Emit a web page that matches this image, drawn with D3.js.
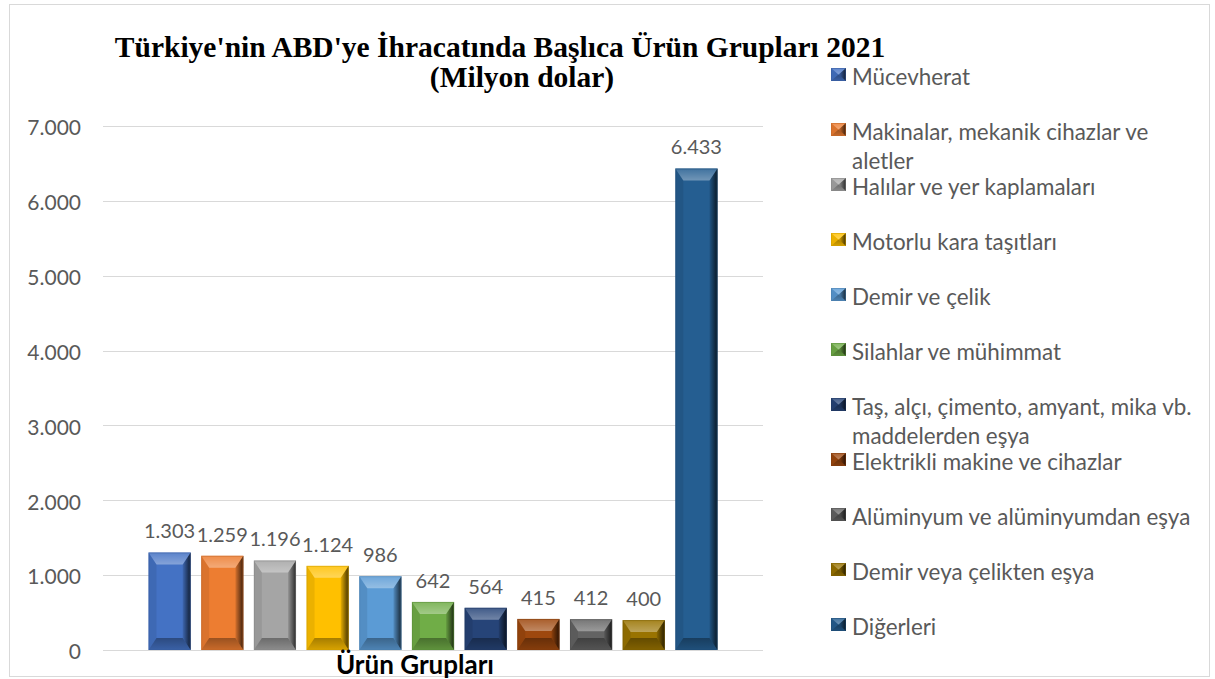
<!DOCTYPE html>
<html>
<head>
<meta charset="utf-8">
<script src="https://cdn.jsdelivr.net/npm/d3@7"></script>
<style>
  body { margin: 0; background: #fff; }
  svg { display: block; }
</style>
</head>
<body>
<div id="chart"></div>
<script>
// data (million USD, 2021)
const categories = ["Ürün Grupları"];
const seriesNames = [
  "Mücevherat",
  "Makinalar, mekanik cihazlar ve aletler",
  "Halılar ve yer kaplamaları",
  "Motorlu kara taşıtları",
  "Demir ve çelik",
  "Silahlar ve mühimmat",
  "Taş, alçı, çimento, amyant, mika vb. maddelerden eşya",
  "Elektrikli makine ve cihazlar",
  "Alüminyum ve alüminyumdan eşya",
  "Demir veya çelikten eşya",
  "Diğerleri",
];
const seriesValues = [1303, 1259, 1196, 1124, 986, 642, 564, 415, 412, 400, 6433];
const seriesColors = [
  "#4472C4", "#ED7D31", "#A5A5A5", "#FFC000", "#5B9BD5", "#70AD47",
  "#264478", "#9E480E", "#636363", "#997300", "#255E91",
];
const yTicks = [0, 1000, 2000, 3000, 4000, 5000, 6000, 7000];
const titleLines = ["Türkiye'nin ABD'ye İhracatında Başlıca Ürün Grupları 2021", "(Milyon dolar)"];

const width = 1215;
const height = 679;
const plot = { left: 103, right: 763, top: 126, bottom: 650 };
const textGray = "#595959";
const sans = "Lato, 'Open Sans', sans-serif";

const trFormat = d3.formatLocale({
  decimal: ",",
  thousands: ".",
  grouping: [3],
  currency: ["", "₺"],
}).format(",");

const svg = d3
  .select("#chart")
  .append("svg")
  .attr("width", width)
  .attr("height", height);

// gradients for the bevel faces
const defs = svg.append("defs");
const gRight = defs.append("linearGradient").attr("id", "bevel-right");
gRight.append("stop").attr("offset", 0).attr("stop-color", "#000").attr("stop-opacity", 0.1);
gRight.append("stop").attr("offset", 1).attr("stop-color", "#000").attr("stop-opacity", 0.75);
const gTop = defs
  .append("linearGradient")
  .attr("id", "bevel-top")
  .attr("x1", 0).attr("y1", 0).attr("x2", 0).attr("y2", 1);
gTop.append("stop").attr("offset", 0).attr("stop-color", "#fff").attr("stop-opacity", 0.12);
gTop.append("stop").attr("offset", 1).attr("stop-color", "#fff").attr("stop-opacity", 0.35);
const gBottom = defs
  .append("linearGradient")
  .attr("id", "bevel-bottom")
  .attr("x1", 0).attr("y1", 0).attr("x2", 0).attr("y2", 1);
gBottom.append("stop").attr("offset", 0).attr("stop-color", "#000").attr("stop-opacity", 0.35);
gBottom.append("stop").attr("offset", 1).attr("stop-color", "#000").attr("stop-opacity", 0.15);

// chart frame
svg
  .append("rect")
  .attr("x", 9.5)
  .attr("y", 4.5)
  .attr("width", 1200)
  .attr("height", 672)
  .attr("fill", "#fff")
  .attr("stroke", "#d9d9d9");

const y = d3.scaleLinear().domain([0, 7000]).range([plot.bottom, plot.top]);

const x0 = d3
  .scaleBand()
  .domain(categories)
  .range([plot.left, plot.right])
  .paddingInner(0)
  .paddingOuter(0.08);

const x1 = d3
  .scaleBand()
  .domain(seriesNames)
  .range([0, x0.bandwidth()])
  .paddingInner(0.2)
  .paddingOuter(0);

// gridlines
svg
  .append("g")
  .selectAll("line")
  .data(yTicks)
  .join("line")
  .attr("x1", plot.left)
  .attr("x2", plot.right)
  .attr("y1", (d) => Math.round(y(d)) + 0.5)
  .attr("y2", (d) => Math.round(y(d)) + 0.5)
  .attr("stroke", "#d9d9d9")
  .attr("stroke-width", 1.2);

// y axis labels
const yAxis = d3
  .axisLeft(y)
  .tickValues(yTicks)
  .tickFormat(trFormat)
  .tickSize(0)
  .tickPadding(0);
const yAxisG = svg
  .append("g")
  .attr("transform", `translate(81,2)`)
  .call(yAxis);
yAxisG.select(".domain").remove();
yAxisG
  .selectAll("text")
  .attr("fill", textGray)
  .style("font-family", sans)
  .style("font-size", "21px");

// bevelled bar
function bevel(g, bx, by, bw, bh, color, s, d) {
  const xa = bx, xb = bx + bw, ya = by, yb = by + bh;
  g.append("rect")
    .attr("x", xa).attr("y", ya).attr("width", bw).attr("height", bh)
    .attr("fill", color);
  const face = (pts, fill) =>
    g.append("polygon").attr("points", pts.map((p) => p.join(",")).join(" ")).attr("fill", fill);
  face([[xa, ya], [xa + s, ya + d], [xa + s, yb - d], [xa, yb]], "rgba(0,0,0,0.08)");
  face([[xb, ya], [xb, yb], [xb - s, yb - d], [xb - s, ya + d]], "url(#bevel-right)");
  face([[xa, yb], [xb, yb], [xb - s, yb - d], [xa + s, yb - d]], "url(#bevel-bottom)");
  face([[xa, ya], [xb, ya], [xb - s, ya + d], [xa + s, ya + d]], "url(#bevel-top)");
  g.append("rect")
    .attr("x", xa + 0.5).attr("y", ya + 0.5).attr("width", bw - 1).attr("height", bh - 1)
    .attr("fill", "none")
    .attr("stroke", d3.color(color).darker(0.6))
    .attr("stroke-opacity", 0.5);
}

const barData = seriesNames.map((name, i) => ({
  category: categories[0],
  name,
  value: seriesValues[i],
  color: seriesColors[i],
}));

const barsG = svg.append("g");
barData.forEach((b) => {
  const bx = x0(b.category) + x1(b.name);
  const by = y(b.value);
  const bh = y(0) - by;
  const bw = x1.bandwidth();
  const g = barsG.append("g");
  const d = Math.min(12, bh / 2.4);
  bevel(g, bx, by, bw, bh, b.color, 8, d);
  barsG
    .append("text")
    .attr("x", bx + bw / 2)
    .attr("y", by - 14)
    .attr("text-anchor", "middle")
    .attr("fill", textGray)
    .style("font-family", sans)
    .style("font-size", "20px")
    .text(trFormat(b.value));
});

// category axis title
svg
  .append("text")
  .attr("x", 415)
  .attr("y", 674)
  .attr("text-anchor", "middle")
  .attr("fill", "#000")
  .style("font-family", sans)
  .style("font-weight", "bold")
  .style("font-size", "26px")
  .text(categories[0]);

// chart title
const titleG = svg
  .append("g")
  .attr("fill", "#000")
  .style("font-family", "'Liberation Serif', 'Times New Roman', serif")
  .style("font-weight", "bold")
  .style("font-size", "29.5px");
titleG.append("text").attr("x", 500).attr("y", 57).attr("text-anchor", "middle").text(titleLines[0]);
titleG.append("text").attr("x", 522).attr("y", 87).attr("text-anchor", "middle").text(titleLines[1]);

// legend
const legend = svg.append("g");
const legendMax = 352;
barData.forEach((b, i) => {
  const base = 85 + 55 * i;
  const g = legend.append("g");
  bevel(g, 831, base - 17, 15, 13, b.color, 7.5, 6.5);
  const t = g
    .append("text")
    .attr("x", 852)
    .attr("y", base)
    .attr("fill", textGray)
    .style("font-family", sans)
    .style("font-size", "22.4px");
  // wrap long names onto a second line
  const words = b.name.split(" ");
  let line = [];
  let tspan = t.append("tspan").attr("x", 852).attr("y", base);
  let lineNo = 0;
  words.forEach((w) => {
    line.push(w);
    tspan.text(line.join(" "));
    if (tspan.node().getComputedTextLength() > legendMax && line.length > 1) {
      line.pop();
      tspan.text(line.join(" "));
      line = [w];
      lineNo += 1;
      tspan = t.append("tspan").attr("x", 852).attr("y", base + 29 * lineNo).text(w);
    }
  });
});
</script>
</body>
</html>
